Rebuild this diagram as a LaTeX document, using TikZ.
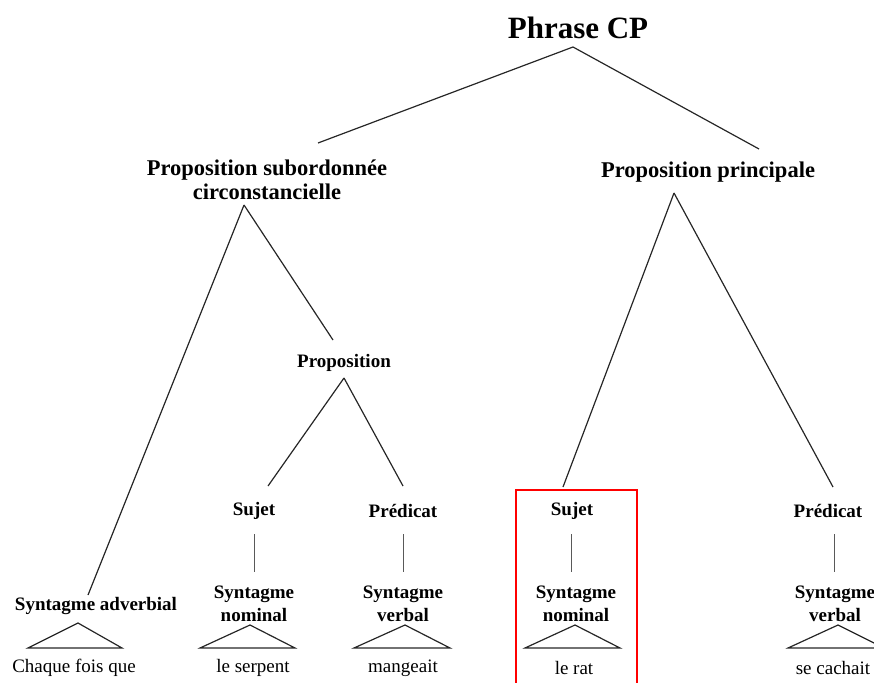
\documentclass[tikz,border=0pt]{standalone}
\usepackage{fontspec}
\setmainfont{Liberation Serif}
\begin{document}
\begin{tikzpicture}[x=1pt,y=-1pt,
  title/.style={inner sep=0pt,font=\fontsize{31}{36}\selectfont\bfseries},
  big/.style={inner sep=0pt,align=center,font=\fontsize{22.5}{24}\selectfont\bfseries},
  small/.style={inner sep=0pt,align=center,font=\fontsize{19}{23}\selectfont\bfseries},
  word/.style={inner sep=0pt,font=\fontsize{19}{23}\selectfont},
  branch/.style={line width=1.2pt,black!85},
  stem/.style={line width=1pt,black!65},
  tri/.style={line width=1.2pt,black!85},
  hilite/.style={draw=red,line width=2.6pt}]
\useasboundingbox (0,0) rectangle (874,682);
\clip (0,0) rectangle (874,682);
% nodes
\node[title] (cp) at (578,28) {Phrase CP};
\node[big] (psc) at (267,180) {Proposition subordonnée\\circonstancielle};
\node[big] (pp) at (708,172) {Proposition principale};
\node[small] (prop) at (344,363) {Proposition};
\node[small] (suj1) at (254,511) {Sujet};
\node[small] (pred1) at (403,511) {Prédicat};
\node[small] (suj2) at (572,511) {Sujet};
\node[small] (pred2) at (828,511) {Prédicat};
\node[small] (sadv) at (96,606) {Syntagme adverbial};
\node[small] (sn1) at (254,604) {Syntagme\\nominal};
\node[small] (sv1) at (403,604) {Syntagme\\verbal};
\node[small] (sn2) at (576,604) {Syntagme\\nominal};
\node[small] (sv2) at (835,604) {Syntagme\\verbal};
\node[word] (w1) at (74,668) {Chaque fois que};
\node[word] (w2) at (253,668) {le serpent};
\node[word] (w3) at (403,668) {mangeait};
\node[word] (w4) at (574,668) {le rat};
\node[word] (w5) at (833,668) {se cachait};
% branches
\draw[branch] ([shift={(-5,19)}]cp.center) -- ([shift={(51,-37)}]psc.center);
\draw[branch] ([shift={(-5,19)}]cp.center) -- ([shift={(51,-23)}]pp.center);
\draw[branch] ([shift={(-23,25)}]psc.center) -- ([shift={(-8,-11)}]sadv.center);
\draw[branch] ([shift={(-23,25)}]psc.center) -- ([shift={(-11,-23)}]prop.center);
\draw[branch] ([shift={(0,15)}]prop.center) -- ([shift={(14,-25)}]suj1.center);
\draw[branch] ([shift={(0,15)}]prop.center) -- ([shift={(0,-25)}]pred1.center);
\draw[branch] ([shift={(-34,21)}]pp.center) -- ([shift={(-9,-24)}]suj2.center);
\draw[branch] ([shift={(-34,21)}]pp.center) -- ([shift={(5,-24)}]pred2.center);
% stems
\draw[stem] ([shift={(0,23)}]suj1.center) -- ([shift={(0,-32)}]sn1.center);
\draw[stem] ([shift={(0,23)}]pred1.center) -- ([shift={(0,-32)}]sv1.center);
\draw[stem] ([shift={(-1,23)}]suj2.center) -- ([shift={(-5,-32)}]sn2.center);
\draw[stem] ([shift={(6,23)}]pred2.center) -- ([shift={(-1,-32)}]sv2.center);
% triangles
\draw[tri] ([shift={(4,-45)}]w1.center) -- ([shift={(-46,-20)}]w1.center) -- ([shift={(48,-20)}]w1.center) -- cycle;
\draw[tri] ([shift={(-3,-43)}]w2.center) -- ([shift={(-53,-20)}]w2.center) -- ([shift={(42,-20)}]w2.center) -- cycle;
\draw[tri] ([shift={(2,-43)}]w3.center) -- ([shift={(-49,-20)}]w3.center) -- ([shift={(47,-20)}]w3.center) -- cycle;
\draw[tri] ([shift={(1,-43)}]w4.center) -- ([shift={(-49,-20)}]w4.center) -- ([shift={(46,-20)}]w4.center) -- cycle;
\draw[tri] ([shift={(5,-43)}]w5.center) -- ([shift={(-45,-20)}]w5.center) -- ([shift={(51,-20)}]w5.center) -- cycle;
% highlight box
\draw[hilite] (516,490) rectangle (637,700);
\end{tikzpicture}
\end{document}
